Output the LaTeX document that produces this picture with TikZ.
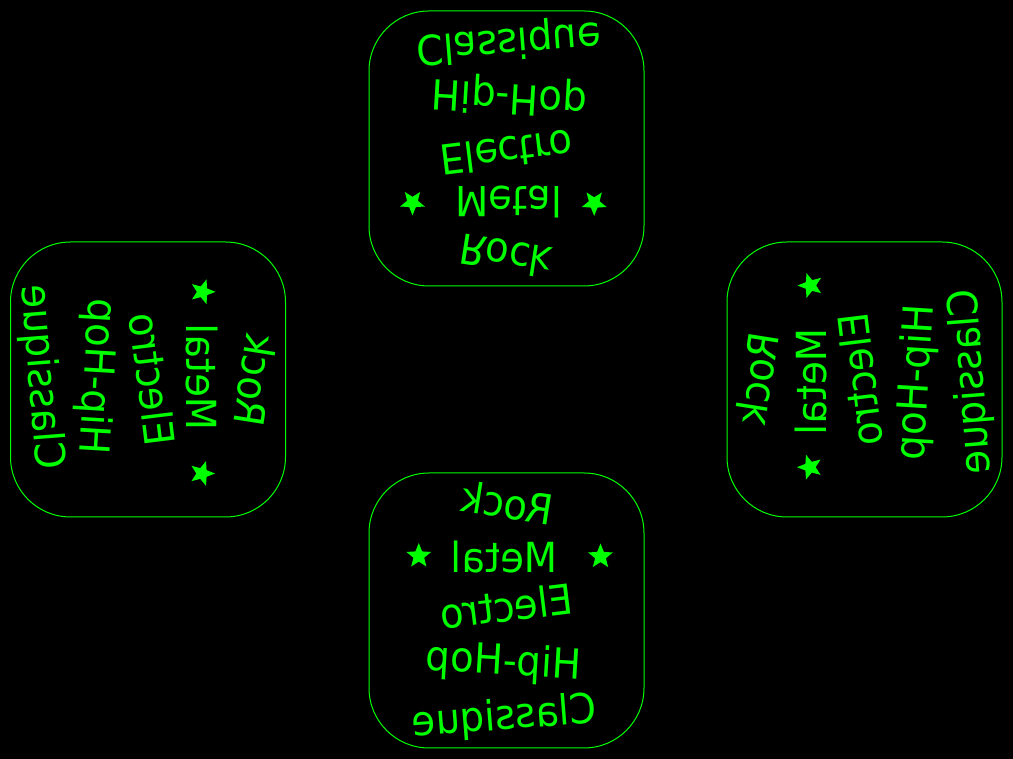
\documentclass[tikz,border=0pt]{standalone}
\usepackage{fontspec}
\usepackage{tikz}
\usetikzlibrary{shapes.geometric}
\newfontfamily\genrefont{DejaVu Sans}[FakeStretch=0.93]
\definecolor{neon}{RGB}{0,255,0}

\begin{document}
\begin{tikzpicture}[line cap=round, line join=round, x=1pt, y=1pt,
    genre/.style={text=neon, font=\genrefont\fontsize{41.5}{44}\selectfont, inner sep=0pt, transform shape, xscale=-1},
    starmark/.style={star, star points=5, star point ratio=2.3, fill=neon, minimum size=26pt, inner sep=0pt, transform shape},
    cardbox/.style={draw=neon, line width=1pt, rounded corners=60pt}]

    \fill[black] (0,0) rectangle (1013,759);
    \useasboundingbox (0,0) rectangle (1013,759);

    % same card four times, turned round the table
    \foreach \cx/\cy/\ang/\side in {506.5/148.5/0/bottom, 506.5/610.5/180/top, 148/379.5/-90/left, 864.5/379.5/90/right}{
      \begin{scope}[shift={(\cx,\cy)}, rotate=\ang]
        \draw[cardbox] (-137.5,-137.5) rectangle (137.5,137.5);

        \node[genre, rotate=9] (rock-\side) at (0.5,107.5) {Rock};
        \node[genre] (metal-\side) at (-2,53.5) {Metal};
        \node[genre, rotate=-7] (electro-\side) at (0,4.5) {Electro};
        \node[genre, rotate=3.5] (hiphop-\side) at (-3,-52.5) {Hip-Hop};
        \node[genre, rotate=-4.5] (classique-\side) at (-2,-107.5) {Classique};

        \node[starmark] (starl-\side) at (-87.7,54.5) {};
        \node[starmark] (starr-\side) at (94,54) {};
      \end{scope}
    }
\end{tikzpicture}
\end{document}
